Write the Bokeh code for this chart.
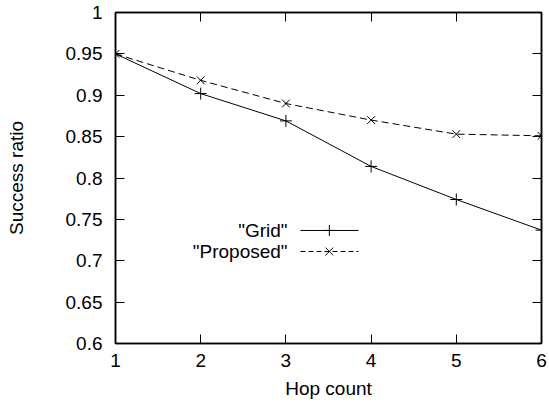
from bokeh.plotting import figure
from bokeh.embed import file_html
from bokeh.resources import INLINE
from bokeh.models import LinearAxis, Range1d, FixedTicker, Label

hops = [1, 2, 3, 4, 5, 6]
grid = [0.95, 0.902, 0.869, 0.814, 0.774, 0.737]
proposed = [0.95, 0.918, 0.890, 0.870, 0.853, 0.851]
x_ticks = [1, 2, 3, 4, 5, 6]
y_ticks = [0.6, 0.65, 0.7, 0.75, 0.8, 0.85, 0.9, 0.95, 1.0]
y_labels = {0.6: "0.6", 0.65: "0.65", 0.7: "0.7", 0.75: "0.75", 0.8: "0.8",
            0.85: "0.85", 0.9: "0.9", 0.95: "0.95", 1.0: "1"}
series_names = ['"Grid"', '"Proposed"']

FONT = "Liberation Sans"
FS = "19px"

p = figure(width=549, height=410, output_backend="svg", toolbar_location=None,
           x_range=Range1d(1, 6), y_range=Range1d(0.6, 1.0),
           min_border_left=115, min_border_right=8, min_border_top=12,
           min_border_bottom=67, x_axis_label="Hop count", y_axis_label="Success ratio")
p.grid.visible = False
p.outline_line_color = "black"
p.outline_line_width = 1.5
p.background_fill_color = "white"
p.border_fill_color = "white"

for ax in [p.xaxis[0], p.yaxis[0]]:
    ax.major_tick_in = 9
    ax.major_tick_out = 0
    ax.minor_tick_in = 0
    ax.minor_tick_out = 0
    ax.axis_line_width = 1.5
    ax.major_tick_line_width = 1
    ax.major_label_text_font = FONT
    ax.major_label_text_font_size = FS
    ax.major_label_text_color = "black"
    ax.axis_label_text_font = FONT
    ax.axis_label_text_font_size = FS
    ax.axis_label_text_font_style = "normal"
    ax.axis_label_text_color = "black"

p.xaxis[0].ticker = FixedTicker(ticks=x_ticks)
p.xaxis[0].major_label_standoff = 10
p.xaxis[0].axis_label_standoff = 8
p.yaxis[0].ticker = FixedTicker(ticks=y_ticks)
p.yaxis[0].major_label_overrides = y_labels
p.yaxis[0].major_label_standoff = 13
p.yaxis[0].axis_label_standoff = 36

top = LinearAxis(ticker=FixedTicker(ticks=x_ticks),
                 major_label_overrides={t: "" for t in x_ticks},
                 major_tick_in=9, major_tick_out=0, minor_tick_in=0, minor_tick_out=0,
                 axis_line_width=1.5, major_label_standoff=0)
right = LinearAxis(ticker=FixedTicker(ticks=y_ticks),
                   major_label_overrides={t: "" for t in y_ticks},
                   major_tick_in=9, major_tick_out=0, minor_tick_in=0, minor_tick_out=0,
                   axis_line_width=1.5, major_label_standoff=0)
p.add_layout(top, "above")
p.add_layout(right, "right")

p.line(hops, grid, line_color="black", line_width=1)
p.scatter(hops, grid, marker="cross", size=12, line_color="black", line_width=1)
p.line(hops, proposed, line_color="black", line_width=1, line_dash="7 4")
p.scatter(hops, proposed, marker="x", size=11, line_color="black", line_width=1)

# legend (label left of sample, gnuplot style)
lx0, lx1, lxm, ltx = 3.171, 3.852, 3.51, 3.02
rows = [0.7366, 0.7112]
dashes = ["solid", "5 3"]
markers = ["cross", "x"]
for name, yy, dash, mk in zip(series_names, rows, dashes, markers):
    p.line([lx0, lx1], [yy, yy], line_color="black", line_width=1, line_dash=dash)
    p.scatter([lxm], [yy], marker=mk, size=11, line_color="black", line_width=1)
    p.add_layout(Label(x=ltx, y=yy, text=name, text_align="right", text_baseline="middle",
                       text_font=FONT, text_font_size=FS, text_color="black"))

open("out.html", "w").write(file_html(p, INLINE))
